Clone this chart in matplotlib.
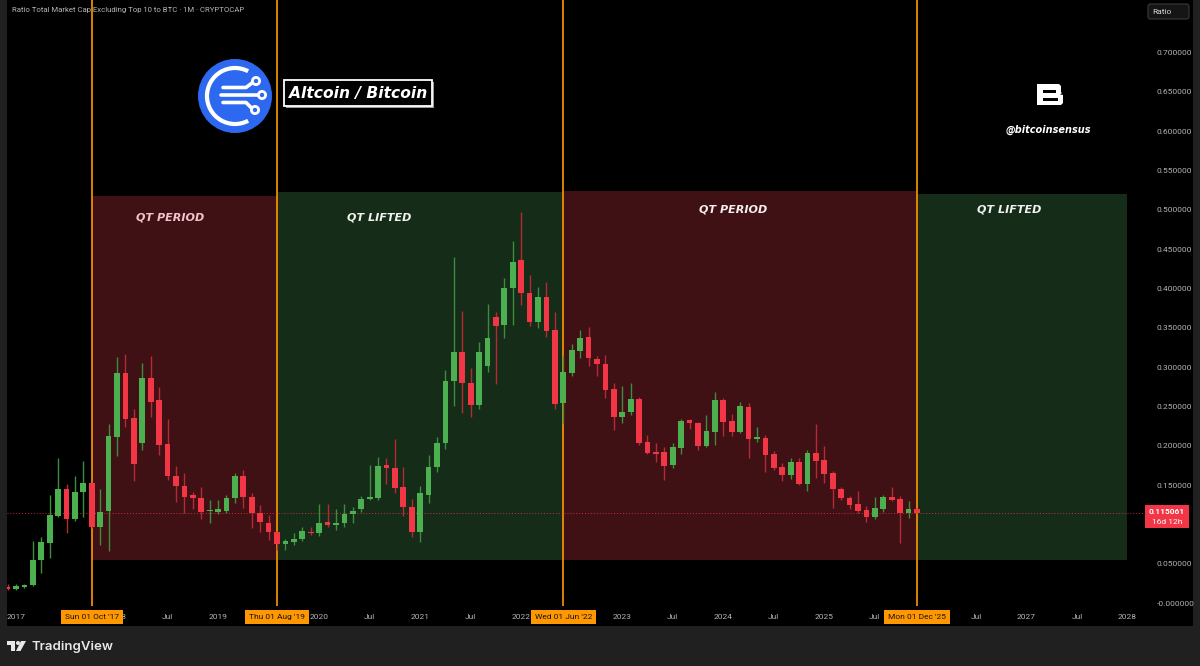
import numpy as np
import pandas as pd
import matplotlib
matplotlib.use("Agg")
import matplotlib.pyplot as plt
from matplotlib.patches import Rectangle, Circle, Arc, Polygon, FancyBboxPatch
from matplotlib.transforms import blended_transform_factory

# monthly candles, ratio OTHERS / BTC, first candle = Dec 2016
first_month = "2016-12"
opens = [0.0207, 0.0174, 0.0207, 0.0225, 0.0547, 0.0767, 0.111, 0.145, 0.1065, 0.1416,
         0.1523, 0.097, 0.117, 0.2108, 0.293, 0.235, 0.204, 0.2866, 0.2583, 0.2023,
         0.1616, 0.1489, 0.1374, 0.133, 0.1165, 0.116, 0.117, 0.133, 0.162, 0.1353,
         0.114, 0.102, 0.0907, 0.075, 0.078, 0.081, 0.0907, 0.0895, 0.1027, 0.0992,
         0.1014, 0.1128, 0.119, 0.1323, 0.134, 0.1752, 0.172, 0.147, 0.1217, 0.0907,
         0.1378, 0.1726, 0.2032, 0.2828, 0.319, 0.2795, 0.2519, 0.302, 0.3635, 0.3537,
         0.4004, 0.4364, 0.394, 0.358, 0.3897, 0.3473, 0.254, 0.293, 0.3211, 0.3384,
         0.31, 0.3037, 0.2723, 0.237, 0.2434, 0.2595, 0.2053, 0.1921, 0.1921, 0.1756,
         0.1976, 0.2328, 0.2294, 0.2001, 0.218, 0.2583, 0.232, 0.218, 0.2498, 0.209,
         0.2103, 0.1892, 0.1734, 0.1628, 0.1798, 0.1514, 0.1905, 0.182, 0.1658, 0.1454,
         0.134, 0.126, 0.1183, 0.109, 0.1196, 0.1353, 0.1323, 0.1149, 0.119]
highs = [0.024, 0.0238, 0.0246, 0.0789, 0.0844, 0.138, 0.184, 0.151, 0.1616, 0.1807,
         0.1535, 0.145, 0.2273, 0.3134, 0.3168, 0.2468, 0.3057, 0.3147, 0.275, 0.234,
         0.1747, 0.166, 0.1416, 0.147, 0.131, 0.131, 0.1374, 0.165, 0.169, 0.1395,
         0.1247, 0.112, 0.091, 0.081, 0.0886, 0.097, 0.097, 0.126, 0.126, 0.1196,
         0.126, 0.1217, 0.136, 0.1756, 0.186, 0.184, 0.2087, 0.1734, 0.132, 0.149,
         0.188, 0.2116, 0.297, 0.4406, 0.3715, 0.299, 0.3317, 0.38, 0.3706, 0.413,
         0.4606, 0.497, 0.4173, 0.4016, 0.4088, 0.3698, 0.3147, 0.3295, 0.3473, 0.3516,
         0.3142, 0.3155, 0.2795, 0.276, 0.2795, 0.2625, 0.2137, 0.2032, 0.1989, 0.2032,
         0.234, 0.234, 0.2307, 0.239, 0.268, 0.2612, 0.2405, 0.2553, 0.2549, 0.2243,
         0.2137, 0.1938, 0.1785, 0.185, 0.184, 0.1947, 0.2273, 0.1997, 0.168, 0.147,
         0.136, 0.1425, 0.1238, 0.1353, 0.138, 0.147, 0.136, 0.13, 0.1205]
lows = [0.0165, 0.0165, 0.019, 0.022, 0.0386, 0.0569, 0.109, 0.0887, 0.104, 0.109,
        0.096, 0.0738, 0.066, 0.187, 0.2243, 0.155, 0.1947, 0.236, 0.188, 0.1565,
        0.128, 0.114, 0.119, 0.1065, 0.102, 0.113, 0.114, 0.127, 0.121, 0.095,
        0.0907, 0.08, 0.068, 0.068, 0.074, 0.079, 0.087, 0.085, 0.097, 0.0929,
        0.097, 0.102, 0.116, 0.131, 0.131, 0.152, 0.1395, 0.111, 0.0844, 0.078,
        0.127, 0.167, 0.1955, 0.251, 0.242, 0.236, 0.2468, 0.2935, 0.278, 0.3368,
        0.3537, 0.379, 0.3528, 0.35, 0.338, 0.2468, 0.2286, 0.2892, 0.312, 0.3015,
        0.289, 0.2612, 0.22, 0.2286, 0.239, 0.201, 0.19, 0.179, 0.1565, 0.1713,
        0.189, 0.2214, 0.1947, 0.1989, 0.201, 0.2129, 0.2129, 0.2167, 0.1849, 0.2053,
        0.1663, 0.1692, 0.155, 0.1577, 0.15, 0.1425, 0.1586, 0.153, 0.121, 0.131,
        0.119, 0.114, 0.1035, 0.1065, 0.116, 0.13, 0.0767, 0.1077, 0.1145]
closes = [0.0174, 0.0216, 0.0233, 0.0547, 0.0772, 0.112, 0.145, 0.1065, 0.1416, 0.1523,
          0.097, 0.116, 0.2125, 0.293, 0.2337, 0.1768, 0.2866, 0.2561, 0.201, 0.1616,
          0.1489, 0.1353, 0.133, 0.116, 0.1172, 0.119, 0.133, 0.1616, 0.1353, 0.114,
          0.1027, 0.0907, 0.075, 0.0789, 0.0814, 0.0916, 0.089, 0.1014, 0.0992, 0.1014,
          0.1128, 0.117, 0.132, 0.1353, 0.1747, 0.1713, 0.1467, 0.1217, 0.0907, 0.1395,
          0.1726, 0.2032, 0.2824, 0.3197, 0.2795, 0.2519, 0.319, 0.3368, 0.3528, 0.4004,
          0.4342, 0.394, 0.357, 0.3897, 0.3465, 0.2532, 0.2935, 0.3219, 0.3368, 0.3113,
          0.304, 0.271, 0.237, 0.2434, 0.2592, 0.2032, 0.1913, 0.1896, 0.1747, 0.198,
          0.232, 0.2286, 0.2001, 0.2188, 0.2583, 0.2307, 0.2172, 0.2506, 0.2087, 0.211,
          0.1883, 0.1722, 0.1628, 0.179, 0.1514, 0.1905, 0.1807, 0.1641, 0.145, 0.133,
          0.1247, 0.117, 0.109, 0.1205, 0.1344, 0.131, 0.1149, 0.119, 0.115061]
last_price = 0.115061
last_countdown = "16d 12h"

# QT regime markers
qt_dates = ["2017-10", "2019-08", "2022-06", "2025-12"]
qt_date_labels = ["Sun 01 Oct '17", "Thu 01 Aug '19", "Wed 01 Jun '22", "Mon 01 Dec '25"]
zone_starts = ["2017-10", "2019-08", "2022-06", "2025-12"]
zone_ends = ["2019-08", "2022-06", "2025-12", "2028-01"]
zone_tops = [0.518, 0.523, 0.524, 0.520]
zone_bottom = 0.0547
zone_names = ["QT PERIOD", "QT LIFTED", "QT PERIOD", "QT LIFTED"]

price_ticks = [0.0, 0.05, 0.15, 0.2, 0.25, 0.3, 0.35, 0.4, 0.45, 0.5, 0.55, 0.6, 0.65, 0.7]
# time-axis labels hidden behind the orange date tags are left out
hidden_ticks = ["2017-07", "2019-07", "2022-07", "2026-01"]

UP = "#4caf50"
DOWN = "#f23645"
ORANGE = "#ff9800"
AXIS_TXT = "#b4b4b4"


def month_index(s):
    p = pd.Period(s, "M")
    return (p.year - 2017) * 12 + p.month - 1


plt.rcParams["font.family"] = ["Roboto", "DejaVu Sans"]

fig = plt.figure(figsize=(12, 6.66), dpi=100, facecolor="#202020")

# black chart panel
bg = fig.add_axes([7 / 1200, 40 / 666, 1186 / 1200, 626 / 666])
bg.set_facecolor("black")
bg.set_xticks([])
bg.set_yticks([])
for s in bg.spines.values():
    s.set_visible(False)
bg.set_zorder(0)

ax = fig.add_axes([7 / 1200, 60 / 666, 1136 / 1200, 606 / 666])
ax.set_zorder(1)
ax.set_facecolor("black")

x = np.arange(len(opens)) + month_index(first_month)
o = np.array(opens)
h = np.array(highs)
l = np.array(lows)
c = np.array(closes)

# zones
zone_text_pos = [(18.3, 0.490), (43.1, 0.490), (85.2, 0.500), (117.9, 0.501)]
zone_colors = ["#3f1014", "#152c18", "#3f1014", "#152c18"]
zone_text_colors = ["#f2c4cc", "#f0f2f0", "#f4eeee", "#f0f2f0"]
for i in range(len(zone_starts)):
    m0 = month_index(zone_starts[i])
    m1 = month_index(zone_ends[i])
    ax.add_patch(Rectangle((m0, zone_bottom), m1 - m0, zone_tops[i] - zone_bottom,
                           facecolor=zone_colors[i], edgecolor="none", zorder=0.5))
    ax.text(zone_text_pos[i][0], zone_text_pos[i][1], zone_names[i], color=zone_text_colors[i],
            fontsize=8, fontweight="bold", style="italic", family="DejaVu Sans",
            ha="center", va="center", zorder=4)

# vertical QT lines + date labels
trans = blended_transform_factory(ax.transData, ax.transAxes)
for d, lab in zip(qt_dates, qt_date_labels):
    m = month_index(d)
    ax.axvline(m, color=ORANGE, lw=1.2, zorder=1)
    ax.text(m, -0.018, lab, transform=trans, ha="center", va="center", fontsize=6,
            color="#131313", clip_on=False, zorder=10,
            bbox=dict(boxstyle="square,pad=0.45", fc=ORANGE, ec="none"))

# last price line
ax.axhline(last_price, color=DOWN, lw=0.7, ls=(0, (1, 2)), zorder=1.5, alpha=0.8)

# candles
up = c >= o
cols = np.where(up, UP, DOWN)
wick_cols = np.where(up, "#3d8c40", "#b52a35")
body_low = np.minimum(o, c)
body_h = np.maximum(np.abs(c - o), 0.0015)
ax.vlines(x, l, h, colors=wick_cols, lw=1, zorder=2.5)
ax.bar(x, body_h, bottom=body_low, width=0.68, color=cols, edgecolor="none", zorder=3)

ax.set_xlim((7 - 16) / 8.42, (1143 - 16) / 8.42)
ax.set_ylim(-0.0038, 0.767)

# time axis
hidden = [month_index(s) for s in hidden_ticks]
tick_pos = []
tick_lab = []
for y in range(2017, 2029):
    for mm, name in [("01", str(y)), ("07", "Jul")]:
        if y == 2028 and mm == "07":
            continue
        m = month_index(f"{y}-{mm}")
        if m in hidden:
            continue
        tick_pos.append(m)
        tick_lab.append(name)
ax.set_xticks(tick_pos)
ax.set_xticklabels(tick_lab)
ax.tick_params(axis="x", length=0, pad=6, labelsize=6, labelcolor=AXIS_TXT)

ax.yaxis.tick_right()
ax.set_yticks(price_ticks)
ax.set_yticklabels(["-0.000000"] + [f"{v:.6f}" for v in price_ticks[1:]])
ax.tick_params(axis="y", length=0, pad=10, labelsize=6, labelcolor=AXIS_TXT)
for s in ax.spines.values():
    s.set_visible(False)

# overlay for branding (pixel coordinates)
ov = fig.add_axes([0, 0, 1, 1])
ov.set_zorder(5)
ov.set_xlim(0, 1200)
ov.set_ylim(666, 0)
ov.axis("off")
ov.patch.set_alpha(0)

ov.text(12, 10, "Ratio Total Market Cap Excluding Top 10 to BTC · 1M · CRYPTOCAP",
        fontsize=5.6, color=AXIS_TXT, va="center", ha="left")

# Ratio button
ov.add_patch(FancyBboxPatch((1148, 4), 41, 15, boxstyle="round,pad=0,rounding_size=2.5",
                            fc="#151515", ec="#3a3a3a", lw=0.8))
ov.text(1162, 12, "Ratio", fontsize=6, color="#d8d8d8", ha="center", va="center")

# last price tag
ov.add_patch(Rectangle((1145, 505), 44, 23, fc=DOWN, ec="none"))
ov.text(1167, 511.5, f"{last_price:.6f}", fontsize=6, color="white", fontweight="bold",
        ha="center", va="center")
ov.text(1167, 521.5, last_countdown, fontsize=6, color="white", ha="center", va="center")

# logo circle
ov.add_patch(Circle((235, 96), 37, fc="#2d68f0", ec="none"))
ov.add_patch(Arc((235, 96), 56, 56, theta1=62, theta2=298, color="white", lw=3))
ov.plot([221, 258], [95, 95], color="white", lw=2.6, solid_capstyle="round")
ov.plot([223, 246, 252], [87.5, 87.5, 83], color="white", lw=2.6, solid_capstyle="round")
ov.plot([223, 246, 251], [102.5, 102.5, 107.5], color="white", lw=2.6, solid_capstyle="round")
for cx, cy in [(262, 95), (256, 81), (255, 110)]:
    ov.add_patch(Circle((cx, cy), 3.6, fc="#2d68f0", ec="white", lw=2))

# title box
ov.add_patch(Rectangle((286, 82), 148, 26, fc="#9a9a9a", ec="none"))
ov.add_patch(Rectangle((284, 80), 148, 26, fc="black", ec="white", lw=1.3))
ov.text(358, 93.5, "Altcoin / Bitcoin", fontsize=11.2, color="white", fontweight="bold",
        style="italic", family="DejaVu Sans", ha="center", va="center")

# bitcoinsensus mark (blocky B)
ov.add_patch(Polygon([(1037, 84), (1059, 84), (1061, 86), (1061, 92), (1063, 94.5),
                      (1063, 103), (1061, 105), (1037, 105)], closed=True, fc="white", ec="none"))
ov.add_patch(Rectangle((1043, 89.5), 13, 3, fc="black", ec="none"))
ov.add_patch(Rectangle((1043, 97.5), 15, 3.2, fc="black", ec="none"))
ov.add_patch(Polygon([(1063.5, 92), (1063.5, 95), (1060, 94.5)], closed=True, fc="black", ec="none"))
ov.text(1048, 130, "@bitcoinsensus", fontsize=7, color="white", fontweight="bold",
        style="italic", family="DejaVu Sans", ha="center", va="center")

# TradingView footer
ov.add_patch(Rectangle((7, 641), 8, 4, fc="#e8e8e8", ec="none"))
ov.add_patch(Rectangle((11, 641), 4, 10, fc="#e8e8e8", ec="none"))
ov.add_patch(Circle((18, 643), 2, fc="#e8e8e8", ec="none"))
ov.add_patch(Polygon([(21, 641), (26, 641), (20.5, 651), (16, 651)], closed=True,
                     fc="#e8e8e8", ec="none"))
ov.text(32, 647, "TradingView", fontsize=9.5, color="#e8e8e8", fontweight="semibold",
        family=["Inter", "DejaVu Sans"], ha="left", va="center")

fig.savefig("out.png", dpi=100, facecolor=fig.get_facecolor())
